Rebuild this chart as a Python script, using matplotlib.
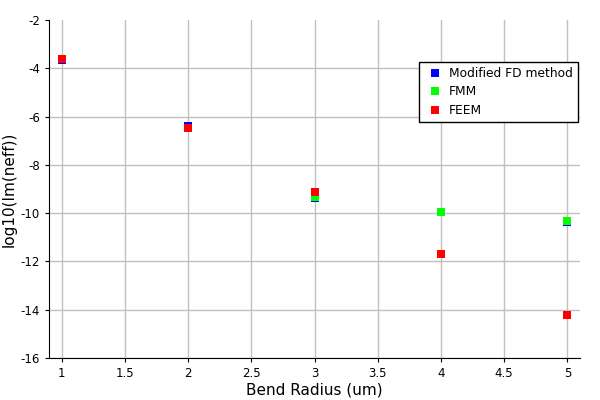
import matplotlib
matplotlib.use('Agg')
from matplotlib import pyplot as plt

# bend radius (um) and log10(Im(neff)) for each method
radius = [1, 2, 3, 4, 5]
fd_vals = [-3.65, -6.37, -9.39, -9.94, -10.36]
fmm_radius = [3, 4, 5]
fmm_vals = [-9.32, -9.94, -10.31]
feem_vals = [-3.61, -6.46, -9.11, -11.68, -14.20]


def main():
    fig = plt.figure(figsize=(6, 4), dpi=100)
    ax = fig.add_axes([49/600, 42/400, 531/600, 338/400])

    ax.plot(radius, fd_vals, 's', color='#0000ff', ms=6, mew=0, label='Modified FD method')
    ax.plot(fmm_radius, fmm_vals, 's', color='#00ff00', ms=6, mew=0, label='FMM')
    ax.plot(radius, feem_vals, 's', color='#ff0000', ms=6, mew=0, label='FEEM')

    ax.set_xlim(0.9, 5.1)
    ax.set_ylim(-16, -2)
    ax.set_xticks([1, 1.5, 2, 2.5, 3, 3.5, 4, 4.5, 5])
    ax.set_xticklabels(['1', '1.5', '2', '2.5', '3', '3.5', '4', '4.5', '5'])
    ax.set_yticks(range(-16, -1, 2))
    ax.set_yticklabels([str(v) for v in range(-16, -1, 2)])
    ax.grid(True, color='#c0c0c0', lw=1)
    ax.set_axisbelow(True)
    # no grid line along the top edge
    ax.get_ygridlines()[-1].set_visible(False)
    for s in ['top', 'right']:
        ax.spines[s].set_visible(False)
    ax.tick_params(labelsize=8.5, length=3)

    ax.set_xlabel('Bend Radius (um)', fontsize=11, labelpad=2)
    ax.set_ylabel('log10(Im(neff))', fontsize=11, labelpad=3)

    leg = ax.legend(loc='upper right', bbox_to_anchor=(0.996, 0.876), borderaxespad=0,
                    fontsize=8.8, fancybox=False, framealpha=1, edgecolor='black',
                    handlelength=1.8, handletextpad=0.27, labelspacing=0.45,
                    numpoints=1)
    leg.get_frame().set_linewidth(1)

    fig.savefig('out.png', dpi=100)


if __name__ == '__main__':
    main()
